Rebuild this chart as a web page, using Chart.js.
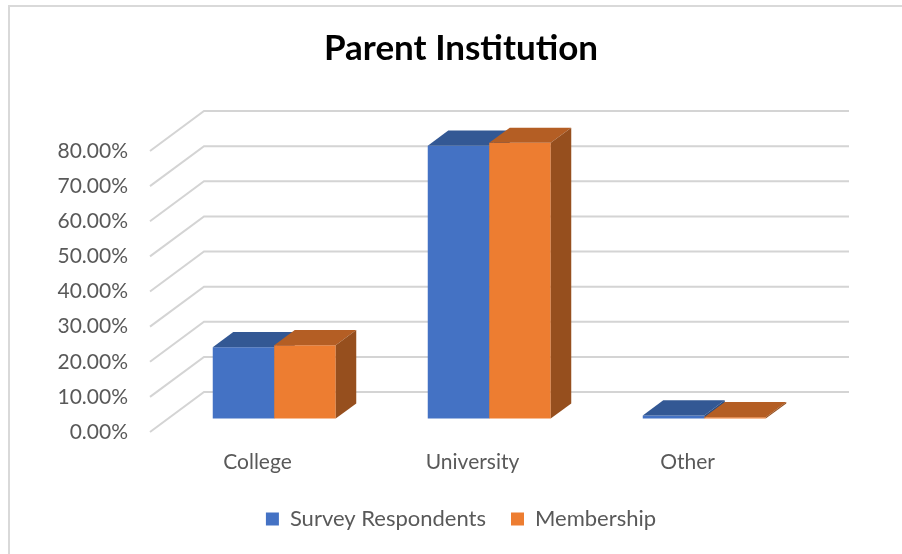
<!DOCTYPE html>
<html>
<head>
<meta charset="utf-8">
<script src="https://cdn.jsdelivr.net/npm/chart.js@4.4.1/dist/chart.umd.min.js"></script>
<style>
    body { margin: 0; background: #ffffff; }
    #wrap { width: 902px; height: 554px; position: relative; }
</style>
</head>
<body>
<div id="wrap"><canvas id="chartParent"></canvas></div>
<script>
// Data dari grafik
const categories = ['College', 'University', 'Other'];
const seriesNames = ['Survey Respondents', 'Membership'];
const surveyValues = [0.203, 0.777, 0.009];
const membershipValues = [0.209, 0.785, 0.004];
const yTickMax = 0.8;
const yTickStep = 0.1;

// Warna muka depan, atas dan samping
const frontColors = ['#4472C4', '#ED7D31'];
const topColors = ['#335894', '#B45E24'];
const sideColors = ['#2B4C80', '#964F1E'];

// Kedalaman lantai 3D dan posisi batang di dalamnya
const floorDX = 54;
const floorDY = -40;
const barFront = 0.31;
const barDepth = 0.38;

const fontName = 'Lato, "Liberation Sans", sans-serif';

// Plugin untuk menggambar efek 3D
const depth3d = {
    id: 'depth3d',
    beforeDraw(chart) {
        const ctx = chart.ctx;
        ctx.save();
        ctx.fillStyle = '#ffffff';
        ctx.fillRect(0, 0, chart.width, chart.height);
        ctx.strokeStyle = '#d9d9d9';
        ctx.lineWidth = 2;
        ctx.strokeRect(9, 6, chart.width + 20, chart.height + 20);
        ctx.restore();
    },
    beforeDatasetsDraw(chart) {
        const ctx = chart.ctx;
        const area = chart.chartArea;
        const yScale = chart.scales.y;

        // garis grid: miring di kiri, lalu lurus di dinding belakang
        ctx.save();
        ctx.strokeStyle = '#d4d4d4';
        ctx.lineWidth = 2;
        yScale.ticks.forEach(t => {
            const y = yScale.getPixelForValue(t.value);
            ctx.beginPath();
            ctx.moveTo(area.left, y);
            ctx.lineTo(area.left + floorDX, y + floorDY);
            ctx.lineTo(area.right + floorDX, y + floorDY);
            ctx.stroke();
        });
        ctx.restore();

        // batang digambar sendiri, urut dari seri pertama supaya sisi tertutup
        const dx = floorDX * barDepth;
        const dy = floorDY * barDepth;
        ctx.save();
        ctx.translate(floorDX * barFront, floorDY * barFront - 1);
        for (let i = 0; i < chart.data.datasets.length; i++) {
            const meta = chart.getDatasetMeta(i);
            meta.data.forEach(bar => {
                bar.draw(ctx);
                const p = bar.getProps(['x', 'y', 'base', 'width'], true);
                const l = p.x - p.width / 2;
                const r = p.x + p.width / 2;
                // muka atas
                ctx.fillStyle = topColors[i];
                ctx.beginPath();
                ctx.moveTo(l, p.y);
                ctx.lineTo(r, p.y);
                ctx.lineTo(r + dx, p.y + dy);
                ctx.lineTo(l + dx, p.y + dy);
                ctx.closePath();
                ctx.fill();
                // muka samping
                ctx.fillStyle = sideColors[i];
                ctx.beginPath();
                ctx.moveTo(r, p.y);
                ctx.lineTo(r + dx, p.y + dy);
                ctx.lineTo(r + dx, p.base + dy);
                ctx.lineTo(r, p.base);
                ctx.closePath();
                ctx.fill();
            });
        }
        ctx.restore();
        return false;
    }
};

document.addEventListener('DOMContentLoaded', function () {
    const ctx = document.getElementById('chartParent').getContext('2d');
    new Chart(ctx, {
        type: 'bar',
        data: {
            labels: categories,
            datasets: [{
                label: seriesNames[0],
                data: surveyValues,
                backgroundColor: frontColors[0],
                borderWidth: 0
            }, {
                label: seriesNames[1],
                data: membershipValues,
                backgroundColor: frontColors[1],
                borderWidth: 0
            }]
        },
        options: {
            responsive: true,
            maintainAspectRatio: false,
            animation: false,
            layout: { padding: { left: 20, right: 0, top: 0, bottom: 14 } },
            datasets: {
                bar: { barPercentage: 1, categoryPercentage: 0.572 }
            },
            scales: {
                x: {
                    grid: { display: false, drawTicks: false },
                    border: { display: false },
                    ticks: {
                        color: '#595959',
                        font: { family: fontName, size: 21 },
                        padding: 18
                    },
                    afterFit: s => { s.height = 51; }
                },
                y: {
                    min: 0,
                    max: yTickMax,
                    grid: { display: false, drawTicks: false },
                    border: { display: false },
                    ticks: {
                        stepSize: yTickStep,
                        color: '#595959',
                        font: { family: fontName, size: 21 },
                        padding: 22,
                        callback: v => (v * 100).toFixed(2) + '%'
                    },
                    afterFit: s => { s.width = 130; }
                },
                yRight: {
                    position: 'right',
                    display: true,
                    grid: { display: false, drawTicks: false },
                    border: { display: false },
                    ticks: { display: false },
                    afterFit: s => { s.width = 107; }
                }
            },
            plugins: {
                title: {
                    display: true,
                    text: 'Parent Institution',
                    color: '#000000',
                    font: { family: fontName, size: 35, weight: 'bold' },
                    padding: { top: 28, bottom: 81 }
                },
                legend: {
                    position: 'bottom',
                    labels: {
                        color: '#595959',
                        font: { family: fontName, size: 22 },
                        boxWidth: 13,
                        boxHeight: 13,
                        padding: 25
                    }
                },
                tooltip: { enabled: false }
            }
        },
        plugins: [depth3d]
    });
});
</script>
</body>
</html>
